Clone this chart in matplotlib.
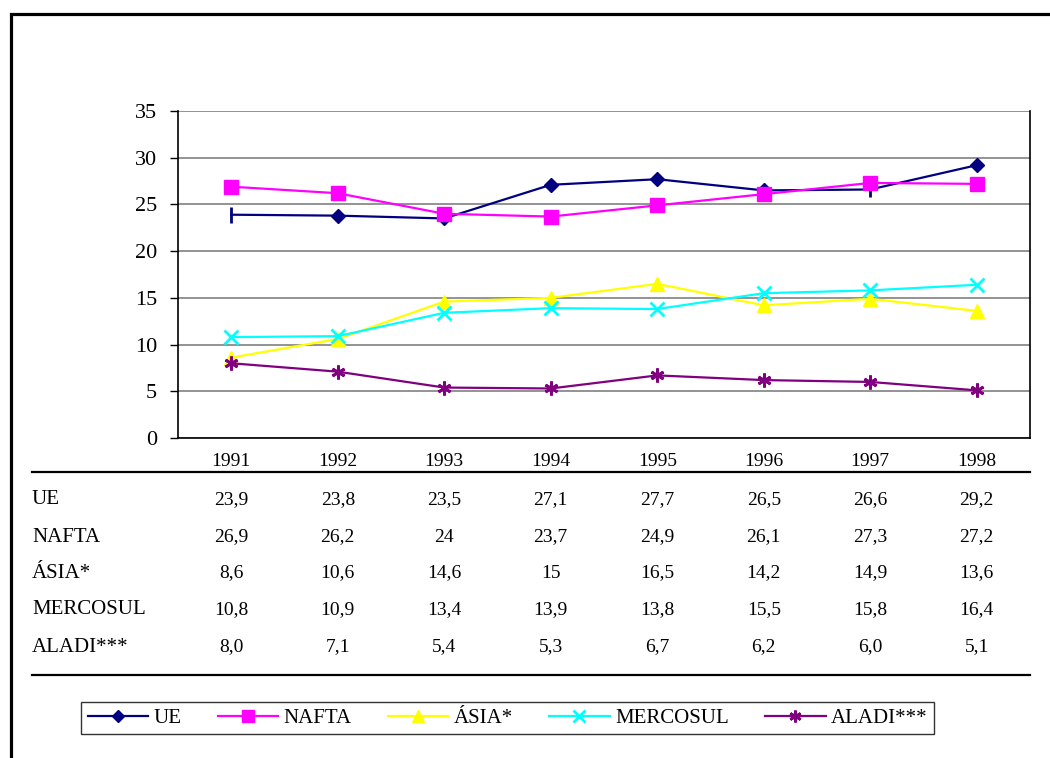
import numpy as np
import matplotlib
matplotlib.use("Agg")
import matplotlib.pyplot as plt
import matplotlib.patches as mpatches
from matplotlib.lines import Line2D
from matplotlib.transforms import blended_transform_factory

plt.rcParams['font.family'] = ['Liberation Serif', 'DejaVu Serif']

years = ['1991', '1992', '1993', '1994', '1995', '1996', '1997', '1998']
names = ['UE', 'NAFTA', 'ÁSIA*', 'MERCOSUL', 'ALADI***']

ue = [23.9, 23.8, 23.5, 27.1, 27.7, 26.5, 26.6, 29.2]
nafta = [26.9, 26.2, 24.0, 23.7, 24.9, 26.1, 27.3, 27.2]
asia = [8.6, 10.6, 14.6, 15.0, 16.5, 14.2, 14.9, 13.6]
mercosul = [10.8, 10.9, 13.4, 13.9, 13.8, 15.5, 15.8, 16.4]
aladi = [8.0, 7.1, 5.4, 5.3, 6.7, 6.2, 6.0, 5.1]

# labels as printed in the table under the chart
table_txt = [
    ['23,9', '23,8', '23,5', '27,1', '27,7', '26,5', '26,6', '29,2'],
    ['26,9', '26,2', '24', '23,7', '24,9', '26,1', '27,3', '27,2'],
    ['8,6', '10,6', '14,6', '15', '16,5', '14,2', '14,9', '13,6'],
    ['10,8', '10,9', '13,4', '13,9', '13,8', '15,5', '15,8', '16,4'],
    ['8,0', '7,1', '5,4', '5,3', '6,7', '6,2', '6,0', '5,1'],
]

colors = ['#000080', '#FF00FF', '#FFFF00', '#00FFFF', '#800080']
markers = ['D', 's', '^', 'x', (6, 2, 0)]
msizes = [7, 10.5, 10, 10, 10]

W, H = 1050, 758
fig = plt.figure(figsize=(W / 100, H / 100), dpi=100)
ax = fig.add_axes([178 / W, 1 - 438 / H, (1030 - 178) / W, (438 - 111) / H])

x = np.arange(len(years))
series = [ue, nafta, asia, mercosul, aladi]
handles = []
for i, s in enumerate(series):
    if i == 0:
        ax.plot(x, s, color=colors[i], lw=1.6, marker=markers[i],
                ms=msizes[i], markevery=[1, 2, 3, 4, 5, 7], zorder=3)
        ax.plot(x, s, color=colors[i], lw=0, marker='|', ms=11, mew=2,
                markevery=[0, 6], zorder=3)
    else:
        ax.plot(x, s, color=colors[i], lw=1.6, marker=markers[i],
                ms=msizes[i], mew=2 if i >= 3 else 1, zorder=3)
    handles.append(Line2D([], [], color=colors[i], lw=1.6, marker=markers[i],
                          ms=msizes[i] * 0.85, mew=2 if i >= 3 else 1))

ax.set_xlim(-0.5, 7.5)
ax.set_ylim(0, 35)
ax.set_yticks(np.arange(0, 36, 5))
ax.set_xticks([])
ax.yaxis.grid(True, color='#808080', lw=1.2)
ax.set_axisbelow(True)
ax.tick_params(axis='y', length=6, width=1, pad=9, labelsize=16)
for side in ['left', 'bottom', 'right']:
    ax.spines[side].set_color('black')
    ax.spines[side].set_linewidth(1.2)
ax.spines['top'].set_visible(False)

# data table
tr = blended_transform_factory(ax.transData, fig.transFigure)
for j, yr in enumerate(years):
    fig.text(x[j], 1 - 461 / H, yr, transform=tr, ha='center', va='center',
             fontsize=14)
row_y = [500, 537, 573, 610, 647]
for r, name in enumerate(names):
    fig.text(32 / W, 1 - row_y[r] / H, name, ha='left', va='center',
             fontsize=15)
    for j in range(len(years)):
        fig.text(x[j], 1 - row_y[r] / H, table_txt[r][j], transform=tr,
                 ha='center', va='center', fontsize=14)
for yy in [472, 675]:
    fig.add_artist(Line2D([32 / W, 1030 / W], [1 - yy / H, 1 - yy / H],
                          color='black', lw=1.6))

leg = fig.legend(handles, names, loc='center',
                 bbox_to_anchor=((81 + 934) / 2 / W, 1 - 718 / H),
                 ncol=5, fontsize=15, frameon=True, fancybox=False,
                 edgecolor='black', handlelength=2.9, handletextpad=0.25,
                 columnspacing=1.75, borderpad=0.3)
leg.get_frame().set_linewidth(1.0)

# outer frame, cut off at right and bottom
top = 1 - 13.5 / H
fig.add_artist(mpatches.Rectangle((10.5 / W, -0.2), 1.2, top + 0.2,
                                  transform=fig.transFigure, fill=False,
                                  lw=2.3, edgecolor='black', clip_on=False))

fig.savefig('out.png', dpi=100)
